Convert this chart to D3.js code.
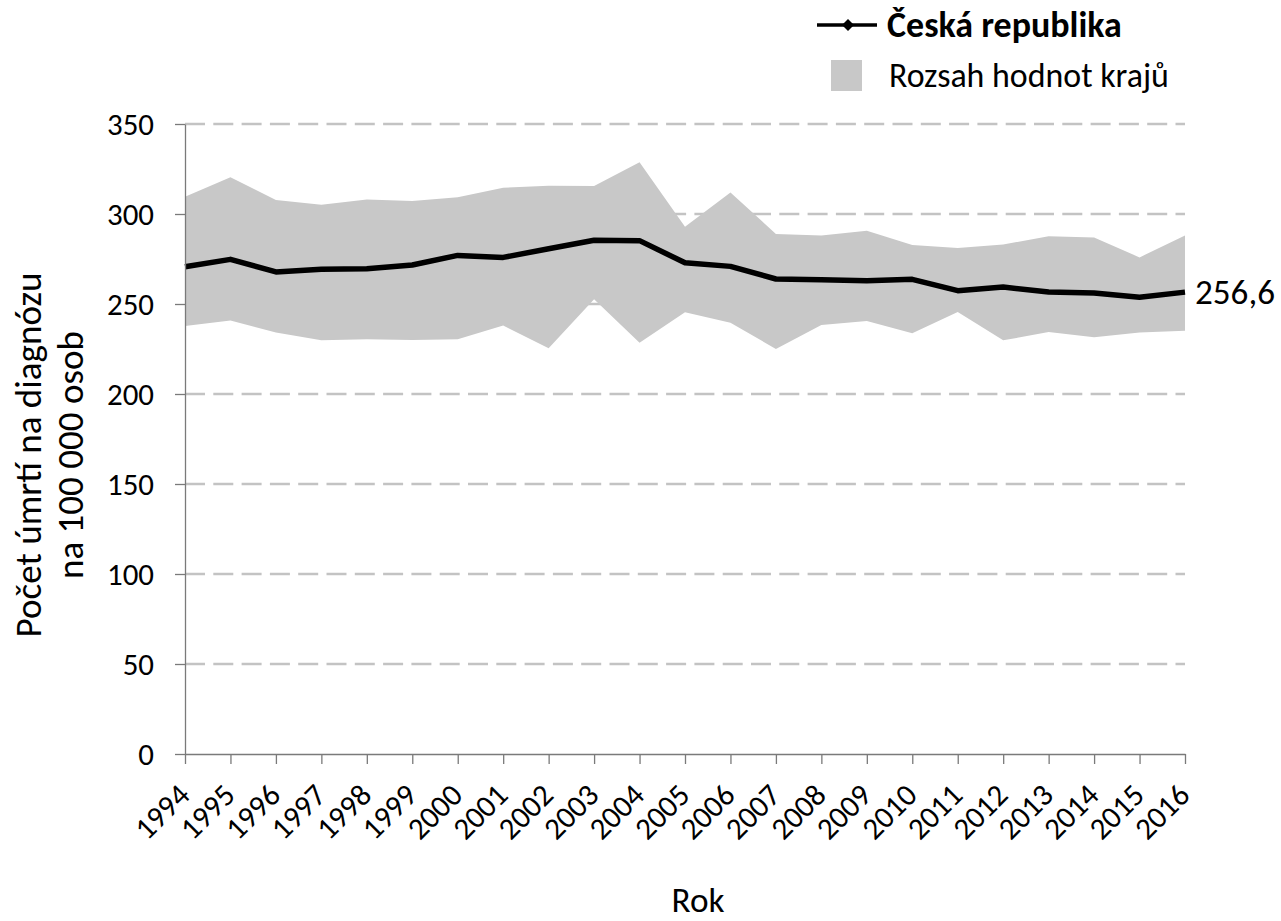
<!DOCTYPE html>
<html>
<head>
<meta charset="utf-8">
<script src="https://cdn.jsdelivr.net/npm/d3@7"></script>
<style>
  html, body { margin: 0; padding: 0; background: #fff; }
  svg { display: block; font-family: Carlito, Lato, "Open Sans", sans-serif; }
</style>
</head>
<body>
<svg id="chart" width="1281" height="921"></svg>
<script>
const years = ["1994","1995","1996","1997","1998","1999","2000","2001","2002","2003","2004","2005","2006","2007","2008","2009","2010","2011","2012","2013","2014","2015","2016"];
const czValues = [270.7, 274.8, 267.8, 269.3, 269.6, 271.7, 277.0, 275.9, 280.7, 285.4, 285.2, 272.9, 270.9, 263.9, 263.5, 262.9, 263.7, 257.4, 259.4, 256.7, 256.1, 253.7, 256.6];
const regionMax = [309.6, 320.4, 307.8, 305.2, 308.1, 307.2, 309.3, 314.6, 315.7, 315.6, 328.7, 292.9, 312.0, 288.9, 288.0, 290.7, 282.8, 281.1, 283.1, 287.6, 287.0, 275.9, 288.1];
const regionMin = [237.8, 240.9, 234.1, 229.8, 230.4, 230.0, 230.4, 238.0, 225.4, 252.6, 228.5, 245.4, 239.6, 225.0, 238.3, 240.6, 233.7, 245.6, 229.8, 234.4, 231.5, 234.1, 235.2];
const yTicks = [0, 50, 100, 150, 200, 250, 300, 350];
const seriesName = "Česká republika";
const bandName = "Rozsah hodnot krajů";
const yTitle = ["Počet úmrtí na diagnózu", "na 100 000 osob"];
const xTitle = "Rok";
const lastLabel = "256,6";

const svg = d3.select("#chart");
const x = d3.scalePoint().domain(years).range([185, 1185]);
const y = d3.scaleLinear().domain([0, 350]).range([754, 124]);

function fitSize(text, target, weight) {
  const t = svg.append("text").attr("font-size", 30).attr("font-weight", weight || "normal").text(text);
  const w = t.node().getComputedTextLength();
  t.remove();
  return 30 * target / w;
}

// gridlines
svg.append("g").selectAll("line")
  .data(yTicks.filter(v => v > 0))
  .join("line")
  .attr("x1", x(years[0])).attr("x2", x(years[years.length - 1]))
  .attr("y1", d => y(d)).attr("y2", d => y(d))
  .attr("stroke", "#c3c3c3").attr("stroke-width", 2.5)
  .attr("stroke-dasharray", "20,8.3");

// band
const idx = d3.range(years.length);
svg.append("path")
  .datum(idx)
  .attr("fill", "#c8c8c8")
  .attr("d", d3.area()
    .x(i => x(years[i]))
    .y0(i => y(regionMin[i]))
    .y1(i => y(regionMax[i])));

// line
svg.append("path")
  .datum(idx)
  .attr("fill", "none")
  .attr("stroke", "#000")
  .attr("stroke-width", 5.5)
  .attr("stroke-linejoin", "round")
  .attr("d", d3.line().x(i => x(years[i])).y(i => y(czValues[i])));

const tickSize = fitSize("350", 47);

// y axis
const gy = svg.append("g").attr("transform", `translate(${x(years[0])},0)`)
  .call(d3.axisLeft(y).tickValues(yTicks).tickSize(10).tickSizeOuter(0).tickPadding(21));
gy.select(".domain").attr("stroke", "#7a7a7a").attr("stroke-width", 1.3);
gy.selectAll(".tick line").attr("stroke", "#7a7a7a").attr("stroke-width", 1.3);
gy.selectAll(".tick text").attr("font-size", tickSize).attr("fill", "#000")
  .attr("dy", "0.35em");

// x axis
const gx = svg.append("g").attr("transform", `translate(0,${y(0)})`)
  .call(d3.axisBottom(x).tickSize(10).tickSizeOuter(0));
gx.select(".domain").attr("stroke", "#7a7a7a").attr("stroke-width", 1.3);
gx.selectAll(".tick line").attr("stroke", "#7a7a7a").attr("stroke-width", 1.3);
gx.selectAll(".tick text")
  .attr("font-size", tickSize).attr("fill", "#000")
  .attr("text-anchor", "end")
  .attr("y", 0).attr("dy", null)
  .attr("transform", "translate(6,43) rotate(-45)");
svg.selectAll("g").attr("font-family", null);

// last value label
svg.append("text")
  .attr("x", x(years[years.length - 1]) + 10)
  .attr("y", y(czValues[czValues.length - 1]))
  .attr("dy", "0.35em")
  .attr("font-size", fitSize(lastLabel, 80))
  .text(lastLabel);

// y title
const tSize = fitSize(yTitle[0], 365);
const yt = svg.append("text")
  .attr("transform", "translate(41,455) rotate(-90)")
  .attr("text-anchor", "middle")
  .attr("font-size", tSize);
yt.append("tspan").attr("x", 0).attr("y", 0).text(yTitle[0]);
yt.append("tspan").attr("x", 0).attr("y", 42).text(yTitle[1]);

// x title
svg.append("text")
  .attr("x", 698).attr("y", 912)
  .attr("text-anchor", "middle")
  .attr("font-size", fitSize(xTitle, 53))
  .text(xTitle);

// legend
const lg = svg.append("g");
lg.append("line").attr("x1", 817).attr("x2", 877).attr("y1", 25).attr("y2", 25)
  .attr("stroke", "#000").attr("stroke-width", 3.5);
lg.append("path").attr("d", d3.symbol(d3.symbolSquare, 72)())
  .attr("transform", "translate(848,25) rotate(45)").attr("fill", "#000");
lg.append("text").attr("x", 887).attr("y", 37)
  .attr("font-weight", "bold")
  .attr("font-size", fitSize(seriesName, 235, "bold"))
  .text(seriesName);
lg.append("rect").attr("x", 831).attr("y", 60).attr("width", 31).attr("height", 31)
  .attr("fill", "#c8c8c8");
lg.append("text").attr("x", 889).attr("y", 87)
  .attr("font-size", fitSize(bandName, 280))
  .text(bandName);
</script>
</body>
</html>
